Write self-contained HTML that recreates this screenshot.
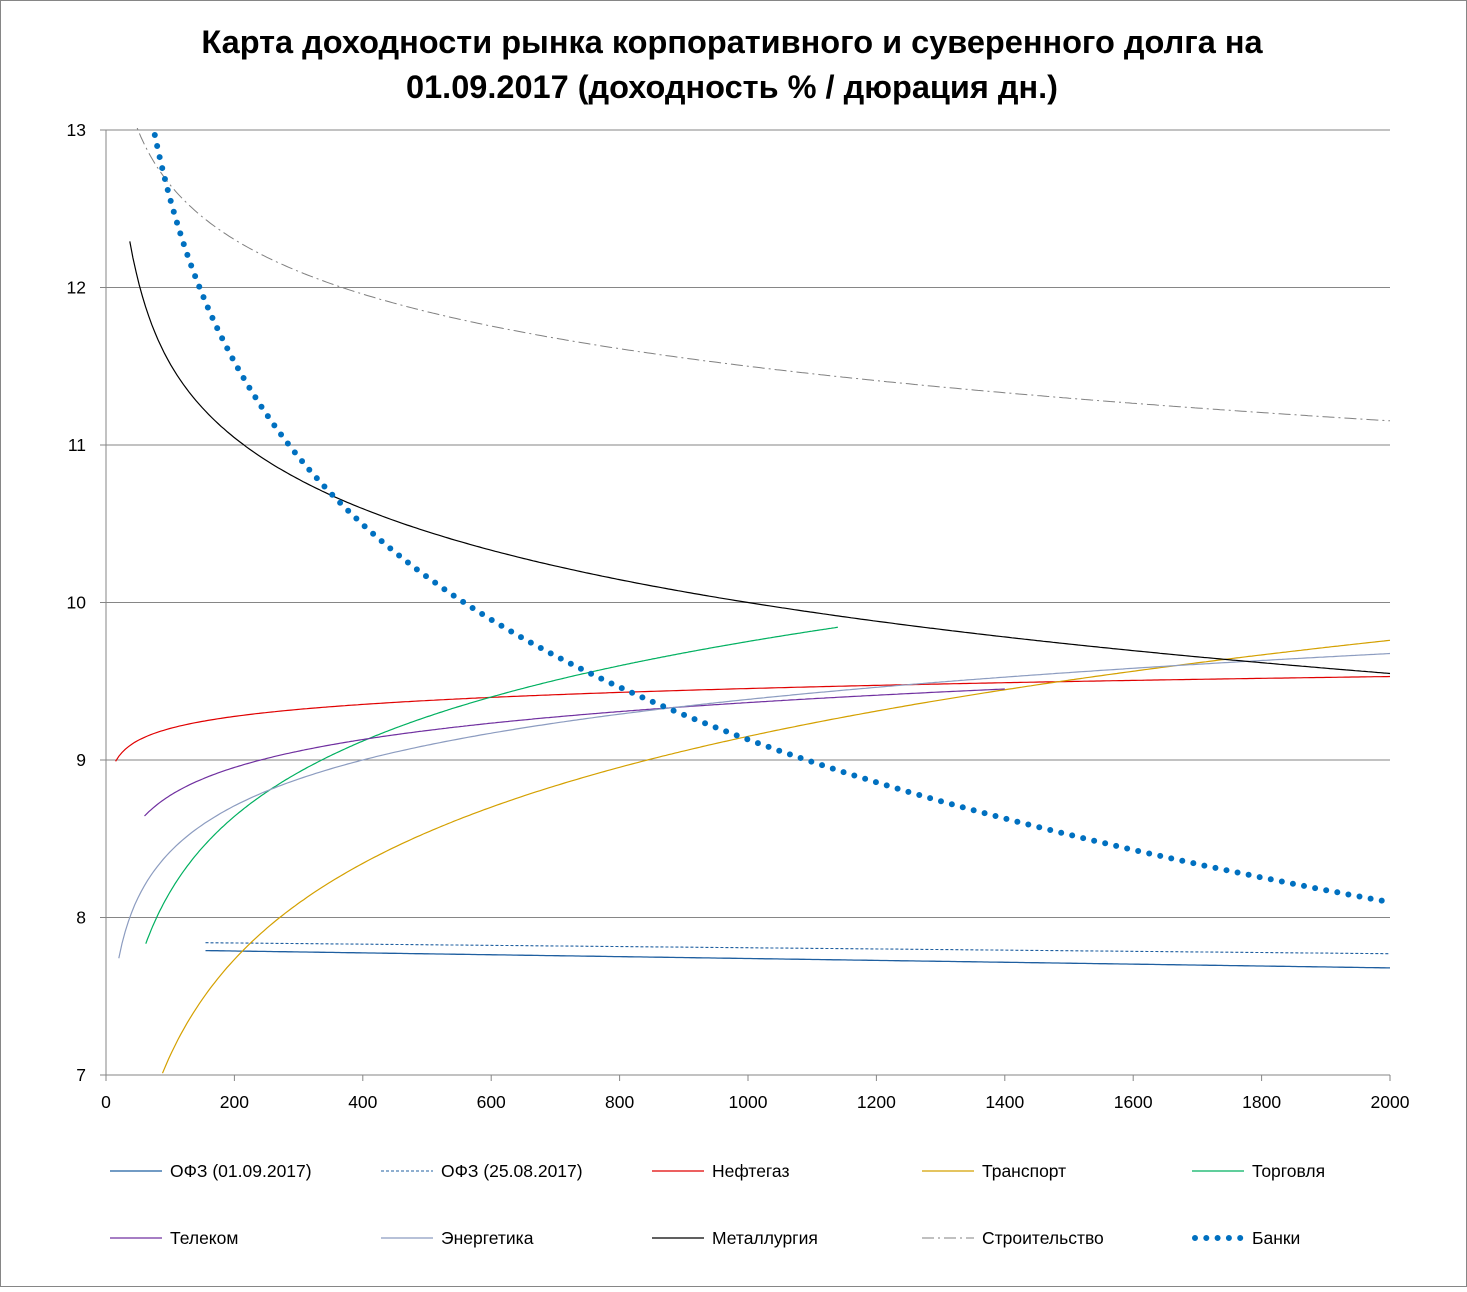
<!DOCTYPE html>
<html><head><meta charset="utf-8"><style>
body{margin:0;background:#fff}
svg text{font-family:"Liberation Sans",sans-serif}
</style></head><body>
<svg id="s" width="1467" height="1287" xmlns="http://www.w3.org/2000/svg">
<defs><clipPath id="cp"><rect x="106" y="128" width="1290" height="950"/></clipPath></defs>
<rect x="0.5" y="0.5" width="1466" height="1286" fill="#fff" stroke="#868686"/>
<text x="732" y="53" font-size="32.5" font-weight="bold" text-anchor="middle">Карта доходности рынка корпоративного и суверенного долга на</text>
<text x="732" y="98" font-size="32.5" font-weight="bold" text-anchor="middle">01.09.2017 (доходность % / дюрация дн.)</text>
<g id="grid"></g>
<g id="series" clip-path="url(#cp)"></g>
<g id="legend"></g>
</svg>
<script>
const s=document.getElementById('s');
const NS='http://www.w3.org/2000/svg';
function el(t,a,p){const e=document.createElementNS(NS,t);for(const k in a)e.setAttribute(k,a[k]);(p||s).appendChild(e);return e;}
const X=v=>106+v*0.642, Y=v=>1075-(v-7)*157.5;
const g=document.getElementById('grid');
for(let v=8;v<=13;v++) el('line',{x1:106,x2:1390,y1:Y(v),y2:Y(v),stroke:'#868686','stroke-width':1},g);
el('line',{x1:106,x2:106,y1:130,y2:1075,stroke:'#868686'},g);
el('line',{x1:106,x2:1390,y1:1075,y2:1075,stroke:'#868686'},g);
for(let v=7;v<=13;v++){el('line',{x1:100,x2:106,y1:Y(v),y2:Y(v),stroke:'#868686'},g);
 const t=el('text',{x:86,y:Y(v)+6,'font-size':17.5,'text-anchor':'end'},g);t.textContent=v;}
for(let v=0;v<=2000;v+=200){el('line',{x1:X(v),x2:X(v),y1:1075,y2:1081,stroke:'#868686'},g);
 const t=el('text',{x:X(v),y:1108,'font-size':17.5,'text-anchor':'middle'},g);t.textContent=v;}
const sg=document.getElementById('series');
function curve(f,a,b,attrs){let d='';const n=400;for(let i=0;i<=n;i++){const x=a+(b-a)*i/n;let y=f(x);let py=Y(y);if(py<100)continue;d+=(d?'L':'M')+X(x).toFixed(1)+' '+py.toFixed(1);}
 el('path',Object.assign({d:d,fill:'none'},attrs),sg);}
const L=Math.log;
curve(x=>7.79-0.11*(x-155)/1845,155,2000,{stroke:'#1f5fa0','stroke-width':1.3});
curve(x=>7.84-0.07*(x-155)/1845,155,2000,{stroke:'#1f5fa0','stroke-width':1.1,'stroke-dasharray':'3 2'});
curve(x=>9.53+0.11*L(x/2000),15,2000,{stroke:'#e00000','stroke-width':1.2});
curve(x=>9.15+0.88*L(x/1000),88,2000,{stroke:'#d4a000','stroke-width':1.2});
curve(x=>9.4+0.69*L(x/600),62,1140,{stroke:'#00b060','stroke-width':1.2});
curve(x=>9.13+0.256*L(x/400),60,1400,{stroke:'#7030a0','stroke-width':1.2});
curve(x=>9.0+0.42*L(x/400),20,2000,{stroke:'#8c9cc0','stroke-width':1.2});
curve(x=>10-0.65*L(x/1000)+0.15*Math.exp(-(x-37)/30),37,2000,{stroke:'#000','stroke-width':1.2});
curve(x=>11.5-0.5*L(x/1000),40,2000,{stroke:'#808080','stroke-width':1,'stroke-dasharray':'12 4 2 4'});
curve(x=>9.13-1.49*L(x/1000),66,1990,{stroke:'#0070c0','stroke-width':6,'stroke-linecap':'round','stroke-dasharray':'0 11.3'});
const lg=document.getElementById('legend');
const items=[
['ОФЗ (01.09.2017)',{stroke:'#1f5fa0','stroke-width':1.3}],
['ОФЗ (25.08.2017)',{stroke:'#1f5fa0','stroke-width':1.1,'stroke-dasharray':'3 2'}],
['Нефтегаз',{stroke:'#e00000','stroke-width':1.2}],
['Транспорт',{stroke:'#d4a000','stroke-width':1.2}],
['Торговля',{stroke:'#00b060','stroke-width':1.2}],
['Телеком',{stroke:'#7030a0','stroke-width':1.2}],
['Энергетика',{stroke:'#8c9cc0','stroke-width':1.2}],
['Металлургия',{stroke:'#000','stroke-width':1.2}],
['Строительство',{stroke:'#808080','stroke-width':1,'stroke-dasharray':'12 4 2 4'}],
['Банки',{stroke:'#0070c0','stroke-width':6,'stroke-linecap':'round','stroke-dasharray':'0 11.3'}]];
const cols=[110,381,652,922,1192];
items.forEach((it,i)=>{const x=cols[i%5],y=i<5?1171:1238;
 el('line',Object.assign({x1:x+(i==9?3:0),x2:x+52,y1:y,y2:y},it[1]),lg);
 const t=el('text',{x:x+60,y:y+6,'font-size':17.5},lg);t.textContent=it[0];});
</script>
</body></html>
